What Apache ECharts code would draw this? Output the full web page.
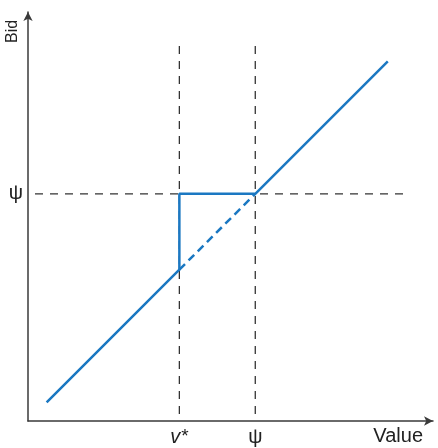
<!DOCTYPE html>
<html><head><meta charset="utf-8">
<script src="https://cdn.jsdelivr.net/npm/echarts@6/dist/echarts.min.js"></script>
<style>html,body{margin:0;padding:0;background:#fff}#c{width:438px;height:448px}</style>
</head><body><div id="c"></div>
<script>
// Data (arbitrary value units, psi = 100)
const vStar = 66.6;
const psi = 100;
const xTickValues = [vStar, psi];
const xTickLabels = ['{i|v}{s|*}', 'ψ'];
const yTickValues = [psi];
const yTickLabels = ['ψ'];
// bid function (solid): 45° line, jumps to psi at v*, flat until psi, then 45° line
const bidSolid = [[8.2, 8.2], [vStar, vStar], [vStar, psi], [psi, psi], [158.3, 158.3]];
// dashed continuation of the 45° line between v* and psi
const bidDashed = [[vStar, vStar], [psi, psi]];
// reference guide lines
const guideTop = 165;
const guideVStar = [[vStar, guideTop], [vStar, 0]];
const guidePsiV = [[psi, guideTop], [psi, 0]];
const guidePsiH = [[guideTop, psi], [0, psi]];

const blue = '#1b78c2';
const axisColor = '#3a3a3a';
const font = 'Liberation Sans, Arial, Helvetica, sans-serif';

const chart = echarts.init(document.getElementById('c'), null, {renderer: 'canvas'});
const guideStyle = {color: '#333', width: 1.3, type: [8, 7]};
chart.setOption({
  animation: false,
  backgroundColor: '#fff',
  grid: {left: 28, right: 5, top: 12, bottom: 27, containLabel: false, outerBoundsMode: 'none'},
  xAxis: {
    type: 'value', min: 0, max: 178.2,
    name: 'Value', nameLocation: 'end', nameGap: -10, nameMoveOverlap: false,
    nameTextStyle: {fontFamily: font, fontSize: 20, color: '#222', align: 'right', verticalAlign: 'top', padding: [5, 0, 0, 0]},
    axisLine: {show: true, symbol: ['none', 'arrow'], symbolSize: [7, 9], lineStyle: {color: axisColor, width: 1.5}},
    axisTick: {show: false},
    splitLine: {show: false},
    axisLabel: {
      show: true, customValues: xTickValues, margin: 6,
      fontFamily: font, fontSize: 20, color: '#222',
      formatter: function (v) { const i = xTickValues.findIndex(t => Math.abs(t - v) < 1e-6); return i >= 0 ? xTickLabels[i] : ''; },
      rich: {
        i: {fontFamily: font, fontSize: 20, fontStyle: 'italic', color: '#222'},
        s: {fontFamily: font, fontSize: 19, color: '#222', verticalAlign: 'top', padding: [0, 0, 2, 1]}
      }
    }
  },
  yAxis: {
    type: 'value', min: 0, max: 180,
    name: 'Bid', nameLocation: 'end', nameRotate: 90, nameGap: -31, nameMoveOverlap: false,
    nameTextStyle: {fontFamily: font, fontSize: 16, color: '#222', align: 'left', verticalAlign: 'bottom', padding: [0, 0, 7, 0]},
    axisLine: {show: true, symbol: ['none', 'arrow'], symbolSize: [7, 9], lineStyle: {color: axisColor, width: 1.5}},
    axisTick: {show: false},
    splitLine: {show: false},
    axisLabel: {
      show: true, customValues: yTickValues, margin: 5,
      fontFamily: font, fontSize: 20, color: '#222',
      formatter: function (v) { const i = yTickValues.findIndex(t => Math.abs(t - v) < 1e-6); return i >= 0 ? yTickLabels[i] : ''; }
    }
  },
  series: [
    {type: 'line', data: guideVStar, symbol: 'none', lineStyle: guideStyle, z: 1, silent: true},
    {type: 'line', data: guidePsiV, symbol: 'none', lineStyle: guideStyle, z: 1, silent: true},
    {type: 'line', data: guidePsiH, symbol: 'none', lineStyle: guideStyle, z: 1, silent: true},
    {type: 'line', data: bidDashed, symbol: 'none', lineStyle: {color: blue, width: 2.5, type: [8, 5]}, z: 3, silent: true},
    {type: 'line', data: bidSolid, symbol: 'none', lineStyle: {color: blue, width: 2.5}, z: 4, silent: true}
  ]
});
</script></body></html>
